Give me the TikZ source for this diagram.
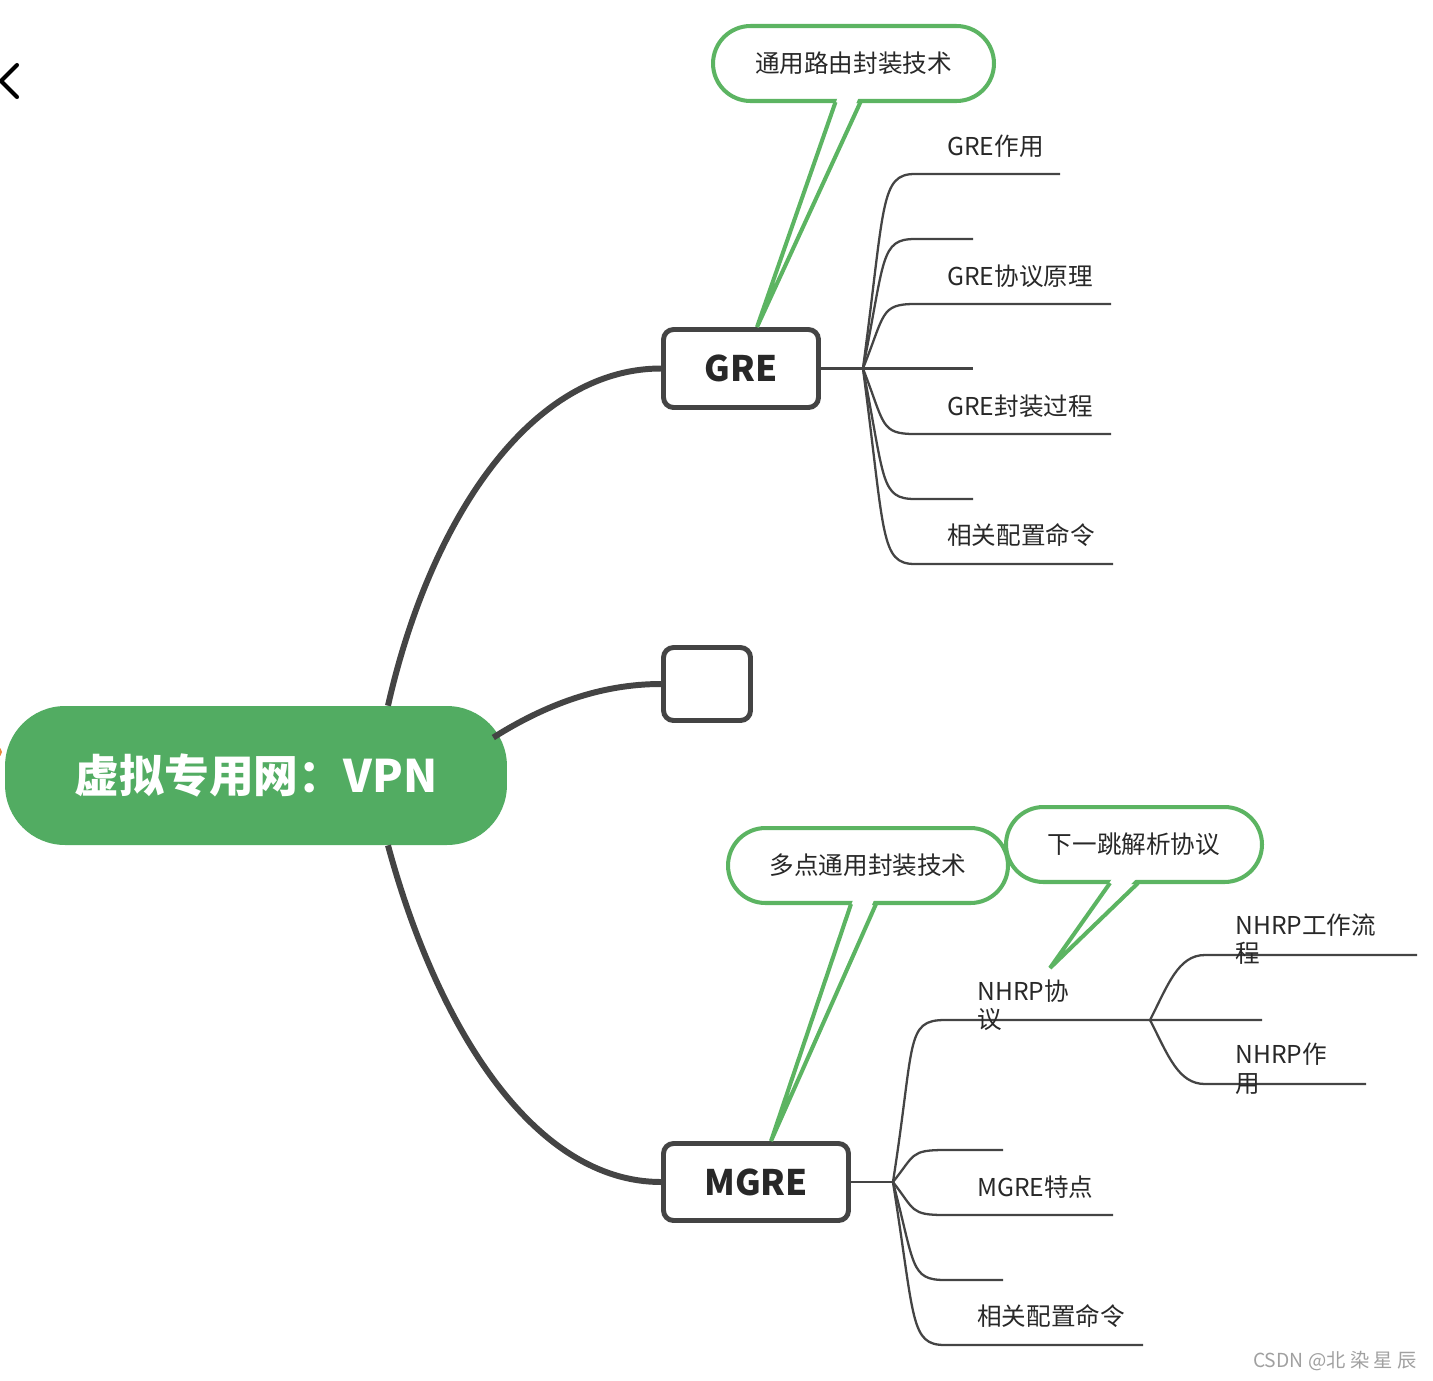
\documentclass[tikz,border=0pt]{standalone}
\usepackage{fontspec}
\setmainfont{Noto Sans CJK SC}
\usepackage{xcolor}
\definecolor{mmdark}{RGB}{68,68,68}
\definecolor{mmgreen}{RGB}{82,172,98}
\definecolor{mmline}{RGB}{92,180,98}
\definecolor{mmtext}{RGB}{40,40,40}
\definecolor{mmgray}{RGB}{160,160,160}
\definecolor{mmorange}{RGB}{232,136,60}
\usepackage{tikz}
\usetikzlibrary{calc}

\begin{document}
\begin{tikzpicture}[x=0.02cm, y=-0.02cm,
  topic/.style={draw=mmdark, line width=2.8pt, fill=white, rounded corners=0.2cm,
                font=\fontsize{20}{24}\selectfont\bfseries, text=mmtext, inner sep=0pt},
  callout/.style={draw=mmline, line width=2.3pt, fill=white, rounded corners=0.75cm,
                  minimum height=1.5cm, font=\fontsize{14}{17}\selectfont, text=mmtext, inner sep=0pt},
  leaf/.style={font=\fontsize{14}{16}\selectfont, text=mmtext, inner sep=0pt, align=left},
  trunk/.style={draw=mmdark, line width=3.4pt},
  twig/.style={draw=mmdark, line width=1.3pt},
  tailedge/.style={draw=mmline, line width=2.3pt, line join=miter}]

\useasboundingbox (0,0) rectangle (1433,1380);

% Back arrow and side mark
\draw[line width=2.3pt, line cap=round, line join=round] (17,65) -- (1,81) -- (17,97);
\fill[mmorange] (-3,752) circle (5);

% Central topic
\node[fill=mmgreen, text=white, rounded corners=1.2cm, minimum width=10.04cm,
      minimum height=2.78cm, inner sep=0pt, font=\fontsize{25.5}{30}\selectfont\bfseries]
      (root) at (256,775.5) {虚拟专用网：VPN};

% Main topics
\node[topic, minimum width=3.1cm, minimum height=1.56cm] (gre) at (741,368.5) {GRE};
\node[topic, minimum width=1.74cm, minimum height=1.46cm] (blank) at (707,684) {};
\node[topic, minimum width=3.7cm, minimum height=1.54cm] (mgre) at (756,1182) {MGRE};

% Trunks
\draw[trunk] ($(root.north)+(132,0)$) .. controls (430,520) and (530,368.5) .. (gre.west);
\draw[trunk] ($(root.east)+(-14,-38)$) .. controls (545,705) and (600,684) .. (blank.west);
\draw[trunk] ($(root.south)+(132,0)$) .. controls (438,1030) and (535,1182) .. (mgre.west);

% GRE branches
\coordinate (ghub) at ($(gre.east)+(42,0)$);
\draw[twig] (gre.east) -- (ghub) -- (973,368.5);
\foreach \yy/\xe in {174/1060, 239/973, 304/1111, 434/1111, 499/973, 564/1113}
  \draw[twig] (ghub) .. controls ($(ghub)+(22,{0.85*(\yy-368)})$) and (880,\yy) .. (915,\yy) -- (\xe,\yy);

\node[leaf, anchor=west] (gre1) at (947,146) {GRE作用};
\node[leaf, anchor=west] (gre2) at (947,276) {GRE协议原理};
\node[leaf, anchor=west] (gre3) at (947,406) {GRE封装过程};
\node[leaf, anchor=west] (gre4) at (947,535) {相关配置命令};

% MGRE branches
\coordinate (mhub) at ($(mgre.east)+(42,0)$);
\coordinate (nhub) at (1150,1020);
\draw[twig] (mgre.east) -- (mhub);
\draw[twig] (mhub) .. controls ($(mhub)+(22,-140)$) and (905,1020) .. (945,1020) -- (nhub) -- (1262,1020);
\foreach \yy/\xe in {1150/1003, 1215/1113, 1280/1003, 1345/1143}
  \draw[twig] (mhub) .. controls ($(mhub)+(22,{0.85*(\yy-1182)})$) and (910,\yy) .. (945,\yy) -- (\xe,\yy);
\draw[twig] (nhub) .. controls (1168,985) and (1178,955) .. (1205,955) -- (1417,955);
\draw[twig] (nhub) .. controls (1168,1055) and (1178,1084) .. (1205,1084) -- (1366,1084);

\node[leaf, anchor=north west] (nhrp) at (977,979) {NHRP协\\议};
\node[leaf, anchor=north west] (nhrp1) at (1235,913) {NHRP工作流\\程};
\node[leaf, anchor=north west] (nhrp2) at (1235,1043) {NHRP作\\用};
\node[leaf, anchor=west] (mgre1) at (977,1187) {MGRE特点};
\node[leaf, anchor=west] (mgre2) at (977,1316) {相关配置命令};

% Callout: GRE
\node[callout, minimum width=5.62cm] (gtip) at (853.5,63.5) {通用路由封装技术};
\fill[white] ($(gtip.south)+(-16,-5)$) -- ($(gtip.south)+(5,-5)$) -- ($(gre.north)+(16,0)$) -- cycle;
\draw[tailedge] ($(gtip.south)+(-18,-1)$) -- ($(gre.north)+(16,0)$) -- ($(gtip.south)+(7,-1)$);

% Callout: MGRE
\node[callout, minimum width=5.6cm] (mtip) at (868,865.5) {多点通用封装技术};
\fill[white] ($(mtip.south)+(-15,-5)$) -- ($(mtip.south)+(6,-5)$) -- ($(mgre.north)+(15,0)$) -- cycle;
\draw[tailedge] ($(mtip.south)+(-17,-1)$) -- ($(mgre.north)+(15,0)$) -- ($(mtip.south)+(8,-1)$);

% Callout: NHRP
\node[callout, minimum width=5.12cm] (ntip) at (1134,844.5) {下一跳解析协议};
\fill[white] ($(ntip.south)+(-22,-5)$) -- ($(ntip.south)+(2,-5)$) -- ($(nhrp.north west)+(73,-11)$) -- cycle;
\draw[tailedge] ($(ntip.south)+(-24,-1)$) -- ($(nhrp.north west)+(73,-11)$) -- ($(ntip.south)+(4,-1)$);

% Watermark
\node[anchor=east, text=mmgray, inner sep=0pt, font=\fontsize{11}{13}\selectfont] (mark) at (1417,1361) {CSDN @北 染 星 辰};

\end{tikzpicture}
\end{document}
